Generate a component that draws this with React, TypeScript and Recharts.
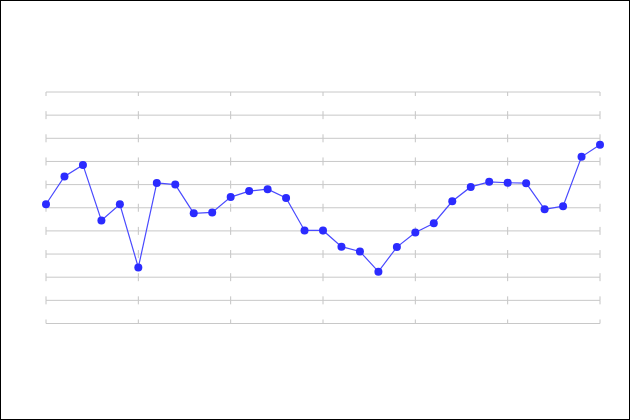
import { LineChart, Line, XAxis, YAxis, CartesianGrid } from "recharts";

const days = Array.from({ length: 31 }, (_, i) => i);
const values = [
  5.15, 6.35, 6.85, 4.45, 5.15, 2.42, 6.07, 6.0, 4.76, 4.8,
  5.46, 5.72, 5.8, 5.42, 4.02, 4.02, 3.32, 3.11, 2.24, 3.3,
  3.93, 4.33, 5.28, 5.9, 6.12, 6.08, 6.06, 4.93, 5.07, 7.2, 7.72,
];
const xTicks = [0, 5, 10, 15, 20, 25, 30];
const yTicks = [0, 1, 2, 3, 4, 5, 6, 7, 8, 9, 10];

const data = days.map((d, i) => ({ day: d, value: values[i] }));

export default function App() {
  return (
    <div style={{ position: "fixed", left: 0, top: 0, width: 630, height: 420, background: "#fff" }}>
      <LineChart width={630} height={420} data={data} margin={{ top: 92, right: 30, left: 46, bottom: 96.5 }}>
        {/* vertical grid shows only as short dashes crossing each horizontal line */}
        <CartesianGrid horizontal={false} stroke="#c4c4c4" strokeDasharray="4 15.15 4 0" />
        <CartesianGrid vertical={false} stroke="#c8c8c8" />
        <XAxis dataKey="day" type="number" domain={[0, 30]} ticks={xTicks} hide />
        <YAxis type="number" domain={[0, 10]} ticks={yTicks} hide />
        <Line
          type="linear"
          dataKey="value"
          stroke="#4a4aff"
          strokeWidth={1.2}
          dot={{ r: 4, fill: "#2b2bff", stroke: "#2b2bff", strokeWidth: 0 }}
          activeDot={false}
          isAnimationActive={false}
        />
      </LineChart>
      <div
        style={{
          position: "absolute",
          left: 0,
          top: 0,
          width: 630,
          height: 420,
          boxSizing: "border-box",
          border: "1px solid #000",
          pointerEvents: "none",
        }}
      />
    </div>
  );
}
